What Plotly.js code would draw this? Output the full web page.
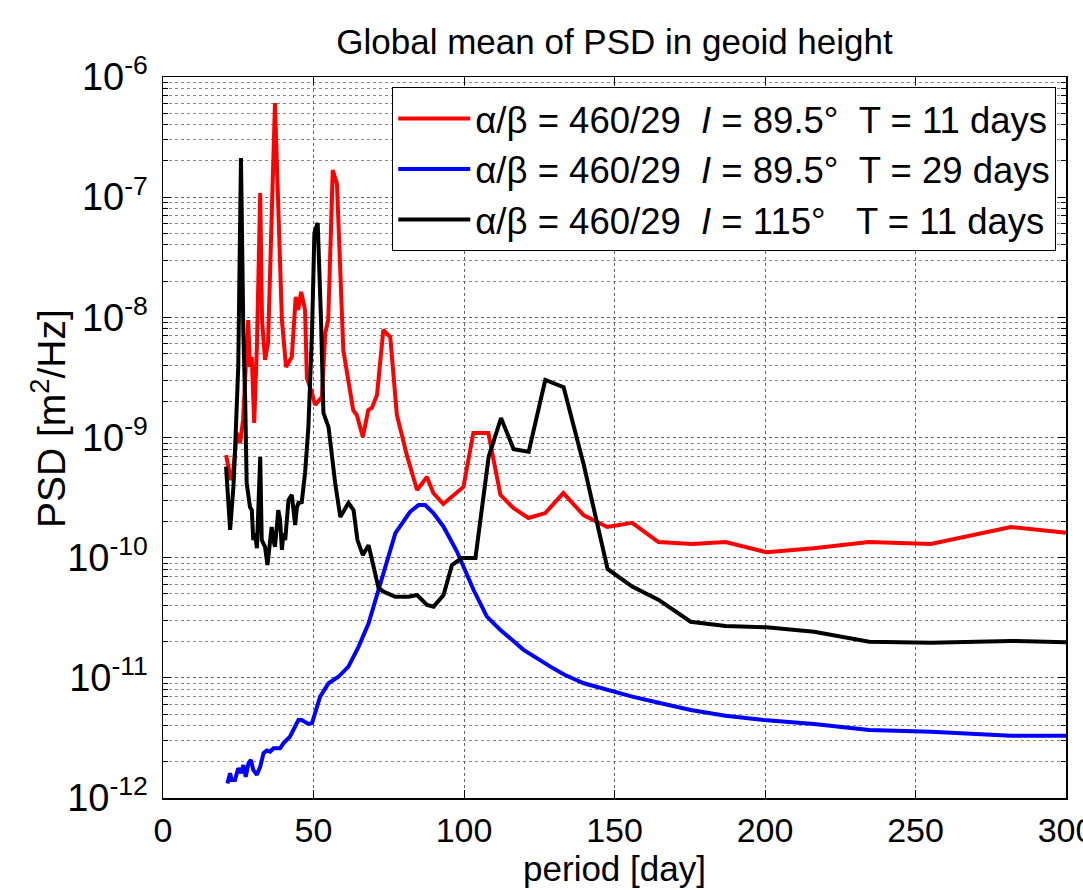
<!DOCTYPE html>
<html>
<head>
<meta charset="utf-8">
<script src="https://cdn.plot.ly/plotly-3.0.1.min.js"></script>
<style>html,body{margin:0;padding:0;background:#fff;}#chart{width:1083px;height:890px;}</style>
</head>
<body>
<div id="chart"></div>
<script>
// ---- data (period in days, PSD in m^2/Hz) ----
var redPeriod = [20.95,22.6,23.3,24.5,25.6,26.6,28.3,28.9,29.5,30.3,31.2,32.3,32.9,33.9,34.9,37.2,39.5,39.9,40.9,42.8,44.1,44.9,45.9,47.2,47.8,49.5,50.5,52.8,53.9,54.9,56.4,57.8,59.9,63.2,64.4,66.4,68.2,69.4,71.1,73.2,75.5,77.7,81.0,84.4,87.7,89.8,93.1,99.8,103.1,108.1,112.1,116.4,121.4,127.0,133.0,139.7,147.6,155.9,164.6,175.8,186.9,200.5,216.2,234.5,255.1,281.7,300];
var redPSD = [7.14e-10,4.43e-10,5.16e-10,1.09e-9,8.99e-10,1.40e-9,9.5e-9,3.86e-9,4.68e-9,1.32e-9,5.66e-9,1.08e-7,9.5e-9,4.42e-9,6.1e-9,6.08e-7,9.5e-9,7.41e-9,3.86e-9,4.68e-9,1.48e-8,1.15e-8,1.63e-8,1.15e-8,3.13e-9,2.34e-9,1.87e-9,2.17e-9,7.41e-9,9.5e-9,1.68e-7,1.29e-7,5.35e-9,1.69e-9,1.54e-9,1.01e-9,1.69e-9,1.76e-9,2.26e-9,7.85e-9,6.85e-9,1.54e-9,7.14e-10,3.66e-10,4.69e-10,3.45e-10,2.80e-10,3.87e-10,1.09e-9,1.09e-9,3.33e-10,2.59e-10,2.14e-10,2.35e-10,3.45e-10,2.26e-10,1.80e-10,1.95e-10,1.35e-10,1.30e-10,1.35e-10,1.11e-10,1.20e-10,1.35e-10,1.30e-10,1.80e-10,1.61e-10];

var bluePeriod = [21.4,22.3,22.8,23.9,25.0,25.9,26.7,27.5,28.4,29.2,30.0,31.2,32.3,33.4,34.5,35.6,36.7,38.9,40.0,42.2,43.3,45.0,46.1,48.3,49.5,50.5,52.2,55.0,58.3,61.6,65.0,68.3,72.2,77.2,82.1,84.9,87.1,89.9,93.2,97.7,103.2,107.6,112.1,119.8,128.7,133.4,139.8,147.8,155.9,164.7,175.3,186.9,199.6,216.3,234.6,255.1,281.7,300];
var bluePSD = [1.32e-12,1.61e-12,1.41e-12,1.41e-12,1.77e-12,1.61e-12,1.88e-12,1.50e-12,1.94e-12,2.07e-12,1.71e-12,1.56e-12,1.82e-12,2.36e-12,2.48e-12,2.43e-12,2.59e-12,2.59e-12,2.85e-12,3.24e-12,3.68e-12,4.46e-12,4.46e-12,4.13e-12,4.19e-12,5.07e-12,6.97e-12,9.01e-12,1.02e-11,1.24e-11,1.82e-11,2.84e-11,6.12e-11,1.60e-10,2.41e-10,2.74e-10,2.74e-10,2.34e-10,1.81e-10,1.12e-10,5.38e-11,3.23e-11,2.50e-11,1.71e-11,1.24e-11,1.06e-11,9.01e-12,7.93e-12,6.97e-12,6.21e-12,5.40e-12,4.84e-12,4.46e-12,4.13e-12,3.68e-12,3.56e-12,3.30e-12,3.30e-12];

var blackPeriod = [20.95,21.7,22.3,22.8,23.4,23.9,25.0,25.9,26.4,26.7,27.3,27.8,28.9,29.5,30.0,30.6,31.2,32.3,32.8,33.9,34.7,35.6,36.1,36.7,37.2,38.3,38.9,39.5,40.0,40.6,41.7,42.8,43.9,44.5,45.0,46.1,47.2,48.3,49.5,50.3,51.4,52.5,53.3,55.0,57.2,58.9,61.6,63.3,64.6,66.4,68.3,71.6,73.3,77.2,81.6,84.4,87.7,89.9,93.2,96.0,99.3,103.8,108.2,112.3,116.5,121.5,127.0,133.1,139.8,147.7,155.9,164.7,175.3,186.9,200.5,216.3,234.6,255.1,281.7,300];
var blackPSD = [5.71e-10,2.49e-10,1.70e-10,2.49e-10,3.90e-10,7.43e-10,3.88e-9,2.12e-7,9.5e-9,7.41e-9,2.05e-9,4.18e-10,2.64e-10,2.49e-10,1.40e-10,1.60e-10,1.20e-10,6.89e-10,1.40e-10,1.23e-10,8.69e-11,1.32e-10,1.80e-10,1.40e-10,1.23e-10,2.49e-10,2.06e-10,1.16e-10,1.60e-10,1.40e-10,3.02e-10,3.33e-10,1.87e-10,2.64e-10,2.85e-10,2.90e-10,5.07e-10,1.22e-9,7.41e-9,5.04e-8,6.10e-8,9.5e-9,1.60e-9,1.22e-9,4.18e-10,2.18e-10,2.85e-10,2.49e-10,1.40e-10,1.05e-10,1.27e-10,5.60e-11,5.21e-11,4.73e-11,4.73e-11,4.89e-11,4.04e-11,3.91e-11,4.89e-11,8.69e-11,9.93e-11,9.93e-11,6.92e-10,1.45e-9,7.98e-10,7.62e-10,3.01e-9,2.62e-9,5.90e-10,8.05e-11,5.74e-11,4.45e-11,2.93e-11,2.70e-11,2.63e-11,2.42e-11,2.00e-11,1.96e-11,2.03e-11,1.98e-11];

var seriesNames = [
  "\u03b1/\u03b2 = 460/29\u00a0\u00a0<i>I</i> = 89.5\u00b0\u00a0\u00a0T = 11 days",
  "\u03b1/\u03b2 = 460/29\u00a0\u00a0<i>I</i> = 89.5\u00b0\u00a0\u00a0T = 29 days",
  "\u03b1/\u03b2 = 460/29\u00a0\u00a0<i>I</i> = 115\u00b0\u00a0\u00a0\u00a0T = 11 days"
];

var xTickVals = [0,50,100,150,200,250,300];
var yExponents = [-12,-11,-10,-9,-8,-7,-6];

// ---- axis helpers ----
var yTickVals = yExponents.map(function(e){return Math.pow(10,e);});
var yTickText = yExponents.map(function(e){return "10<sup>" + e + "</sup>";});
var yMinorVals = [];
for (var e = -12; e < -6; e++) {
  for (var m = 2; m <= 9; m++) yMinorVals.push(m * Math.pow(10, e));
}

var FONT = "Liberation Sans, Arial, Helvetica, sans-serif";

var traces = [
  {x: redPeriod, y: redPSD, name: seriesNames[0], mode: "lines", line: {color: "#ff0000", width: 4}},
  {x: bluePeriod, y: bluePSD, name: seriesNames[1], mode: "lines", line: {color: "#0000ff", width: 4}},
  {x: blackPeriod, y: blackPSD, name: seriesNames[2], mode: "lines", line: {color: "#000000", width: 4}}
];

var layout = {
  width: 1083, height: 890,
  paper_bgcolor: "#ffffff", plot_bgcolor: "#ffffff",
  margin: {l: 163, r: 17, t: 77, b: 92},
  font: {family: FONT, color: "#000", size: 30},
  title: {text: "Global mean of PSD in geoid height", font: {family: FONT, size: 35, color: "#000"},
          x: 0.5, xref: "paper", y: 1 - 42/890, yref: "container", yanchor: "middle"},
  xaxis: {
    range: [0, 300], tickmode: "array", tickvals: xTickVals,
    ticks: "inside", ticklen: 8, tickwidth: 1, tickcolor: "#000",
    showline: true, linecolor: "#000", linewidth: 1.5, mirror: "allticks",
    showgrid: true, gridcolor: "#666", griddash: "dot", gridwidth: 1,
    zeroline: false, tickfont: {size: 34}, ticklabelstandoff: 2, ticklabeloverflow: "allow",
    title: {text: "period [day]", font: {size: 35}, standoff: 0}
  },
  yaxis: {
    type: "log", range: [-12, -6], tickmode: "array", tickvals: yTickVals, ticktext: yTickText,
    ticks: "inside", ticklen: 8, tickwidth: 1, tickcolor: "#000",
    showline: true, linecolor: "#000", linewidth: 1.5, mirror: "allticks",
    showgrid: true, gridcolor: "#666", griddash: "dot", gridwidth: 1,
    zeroline: false, tickfont: {size: 38}, ticklabelstandoff: 6,
    minor: {tickmode: "array", tickvals: yMinorVals, ticks: "inside", ticklen: 5, tickcolor: "#000",
            showgrid: true, gridcolor: "#888", griddash: "dot", gridwidth: 1}
  },
  annotations: [{
    text: "PSD [m<sup>2</sup>/Hz]", textangle: -90, showarrow: false,
    xref: "paper", yref: "paper", x: -0.127, y: 0.526, xanchor: "center", yanchor: "middle",
    font: {size: 39, family: FONT, color: "#000"}
  }],
  legend: {
    x: 0.989, xanchor: "right", y: 0.986, yanchor: "top",
    bgcolor: "#ffffff", bordercolor: "#000", borderwidth: 1.2,
    font: {size: 36.5, family: FONT}, tracegroupgap: 0, itemwidth: 72
  },
  showlegend: true
};

Plotly.newPlot("chart", traces, layout, {displayModeBar: false, staticPlot: true});
</script>
</body>
</html>
